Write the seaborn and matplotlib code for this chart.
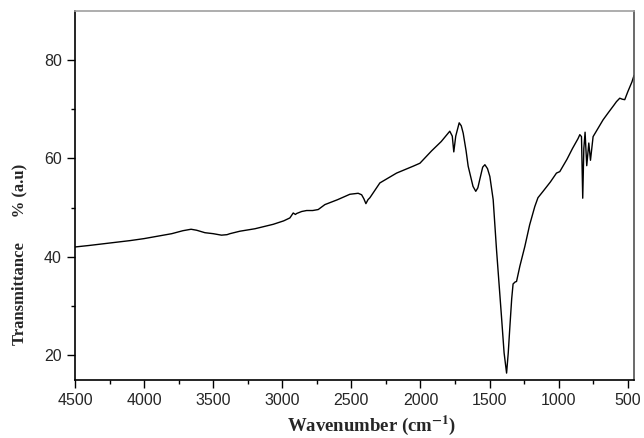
import numpy as np
import pandas as pd
import matplotlib
matplotlib.use("Agg")
import matplotlib.pyplot as plt
from matplotlib.ticker import MultipleLocator
import seaborn as sns

# FTIR spectrum (wavenumber in cm-1, transmittance in %)
wavenumber = [4500, 4400, 4250, 4100, 4000, 3900, 3800, 3720, 3660, 3620,
              3560, 3500, 3440, 3400, 3379, 3307, 3198, 3066, 2990, 2945,
              2921, 2905, 2896, 2860, 2824, 2780, 2740, 2692, 2600, 2511,
              2451, 2426, 2410, 2395, 2380, 2366, 2294, 2173, 2053, 2004,
              1920, 1850, 1788, 1770, 1759, 1745, 1720, 1705, 1691, 1670,
              1655, 1620, 1600, 1585, 1571, 1550, 1534, 1515, 1498, 1474,
              1450, 1414, 1395, 1377, 1365, 1353, 1340, 1330, 1315, 1305,
              1281, 1245, 1210, 1173, 1150, 1113, 1060, 1016, 992, 940,
              900, 860, 847, 835, 826, 818, 809, 797, 782, 770,
              751, 715, 679, 640, 600, 582, 558, 540, 522, 500,
              470, 455]
transmittance = [42.0, 42.3, 42.8, 43.3, 43.7, 44.2, 44.7, 45.3, 45.6, 45.4,
                 44.9, 44.7, 44.4, 44.5, 44.7, 45.2, 45.7, 46.6, 47.3, 47.9,
                 48.9, 48.6, 48.8, 49.2, 49.4, 49.4, 49.6, 50.6, 51.6, 52.7,
                 52.9, 52.6, 51.8, 50.8, 51.6, 52.0, 55.0, 57.0, 58.4, 59.0,
                 61.5, 63.4, 65.5, 64.5, 61.3, 64.5, 67.2, 66.6, 65.1, 61.5,
                 58.4, 54.3, 53.3, 54.0, 55.7, 58.2, 58.7, 57.9, 56.3, 51.6,
                 41.5, 27.9, 20.5, 16.4, 20.5, 25.9, 31.5, 34.5, 34.9, 35.0,
                 38.1, 42.1, 46.5, 50.2, 52.0, 53.3, 55.2, 57.0, 57.3, 59.8,
                 62.0, 64.0, 64.8, 64.4, 51.9, 62.0, 65.3, 58.5, 63.1, 59.6,
                 64.4, 66.1, 67.8, 69.3, 70.8, 71.5, 72.2, 72.0, 71.9, 73.5,
                 75.5, 76.8]

df = pd.DataFrame({"wavenumber": wavenumber, "transmittance": transmittance})

sns.set_theme(style="ticks")
plt.rcParams["font.family"] = ["Liberation Sans", "DejaVu Sans"]
plt.rcParams["mathtext.fontset"] = "stix"

fig = plt.figure(figsize=(6.44, 4.38), dpi=100)
ax = fig.add_axes([75 / 644, 1 - 380 / 438, 559 / 644, 369 / 438])

sns.lineplot(data=df, x="wavenumber", y="transmittance", ax=ax,
             color="black", linewidth=1.0)

ax.set_xlim(4500, 455)
ax.set_ylim(15, 89.9)
ax.xaxis.set_major_locator(MultipleLocator(500))
ax.xaxis.set_minor_locator(MultipleLocator(250))
ax.yaxis.set_major_locator(MultipleLocator(20))
ax.yaxis.set_minor_locator(MultipleLocator(10))
ax.tick_params(which="major", direction="out", length=5.5, width=1.0,
               labelsize=11.5, pad=4, color="black")
ax.tick_params(which="minor", direction="out", length=3, width=1.0,
               color="black")

for side in ["left", "bottom"]:
    ax.spines[side].set_color("black")
    ax.spines[side].set_linewidth(1.2)
ax.spines["top"].set_color("#a0a0a0")
ax.spines["top"].set_linewidth(1.2)
ax.spines["right"].set_color("#505050")
ax.spines["right"].set_linewidth(1.2)

serif = ["Liberation Serif", "DejaVu Serif"]
ax.set_xlabel(r"Wavenumber (cm$^{\mathbf{-1}}$)", family=serif, weight="bold", size=13.5)
ax.set_ylabel("Transmittance      % (a.u)", family=serif, weight="bold", size=12)
ax.xaxis.set_label_coords(0.53, -0.092)
ax.yaxis.set_label_coords(-0.085, 0.34)

fig.savefig("out.png", dpi=100)
